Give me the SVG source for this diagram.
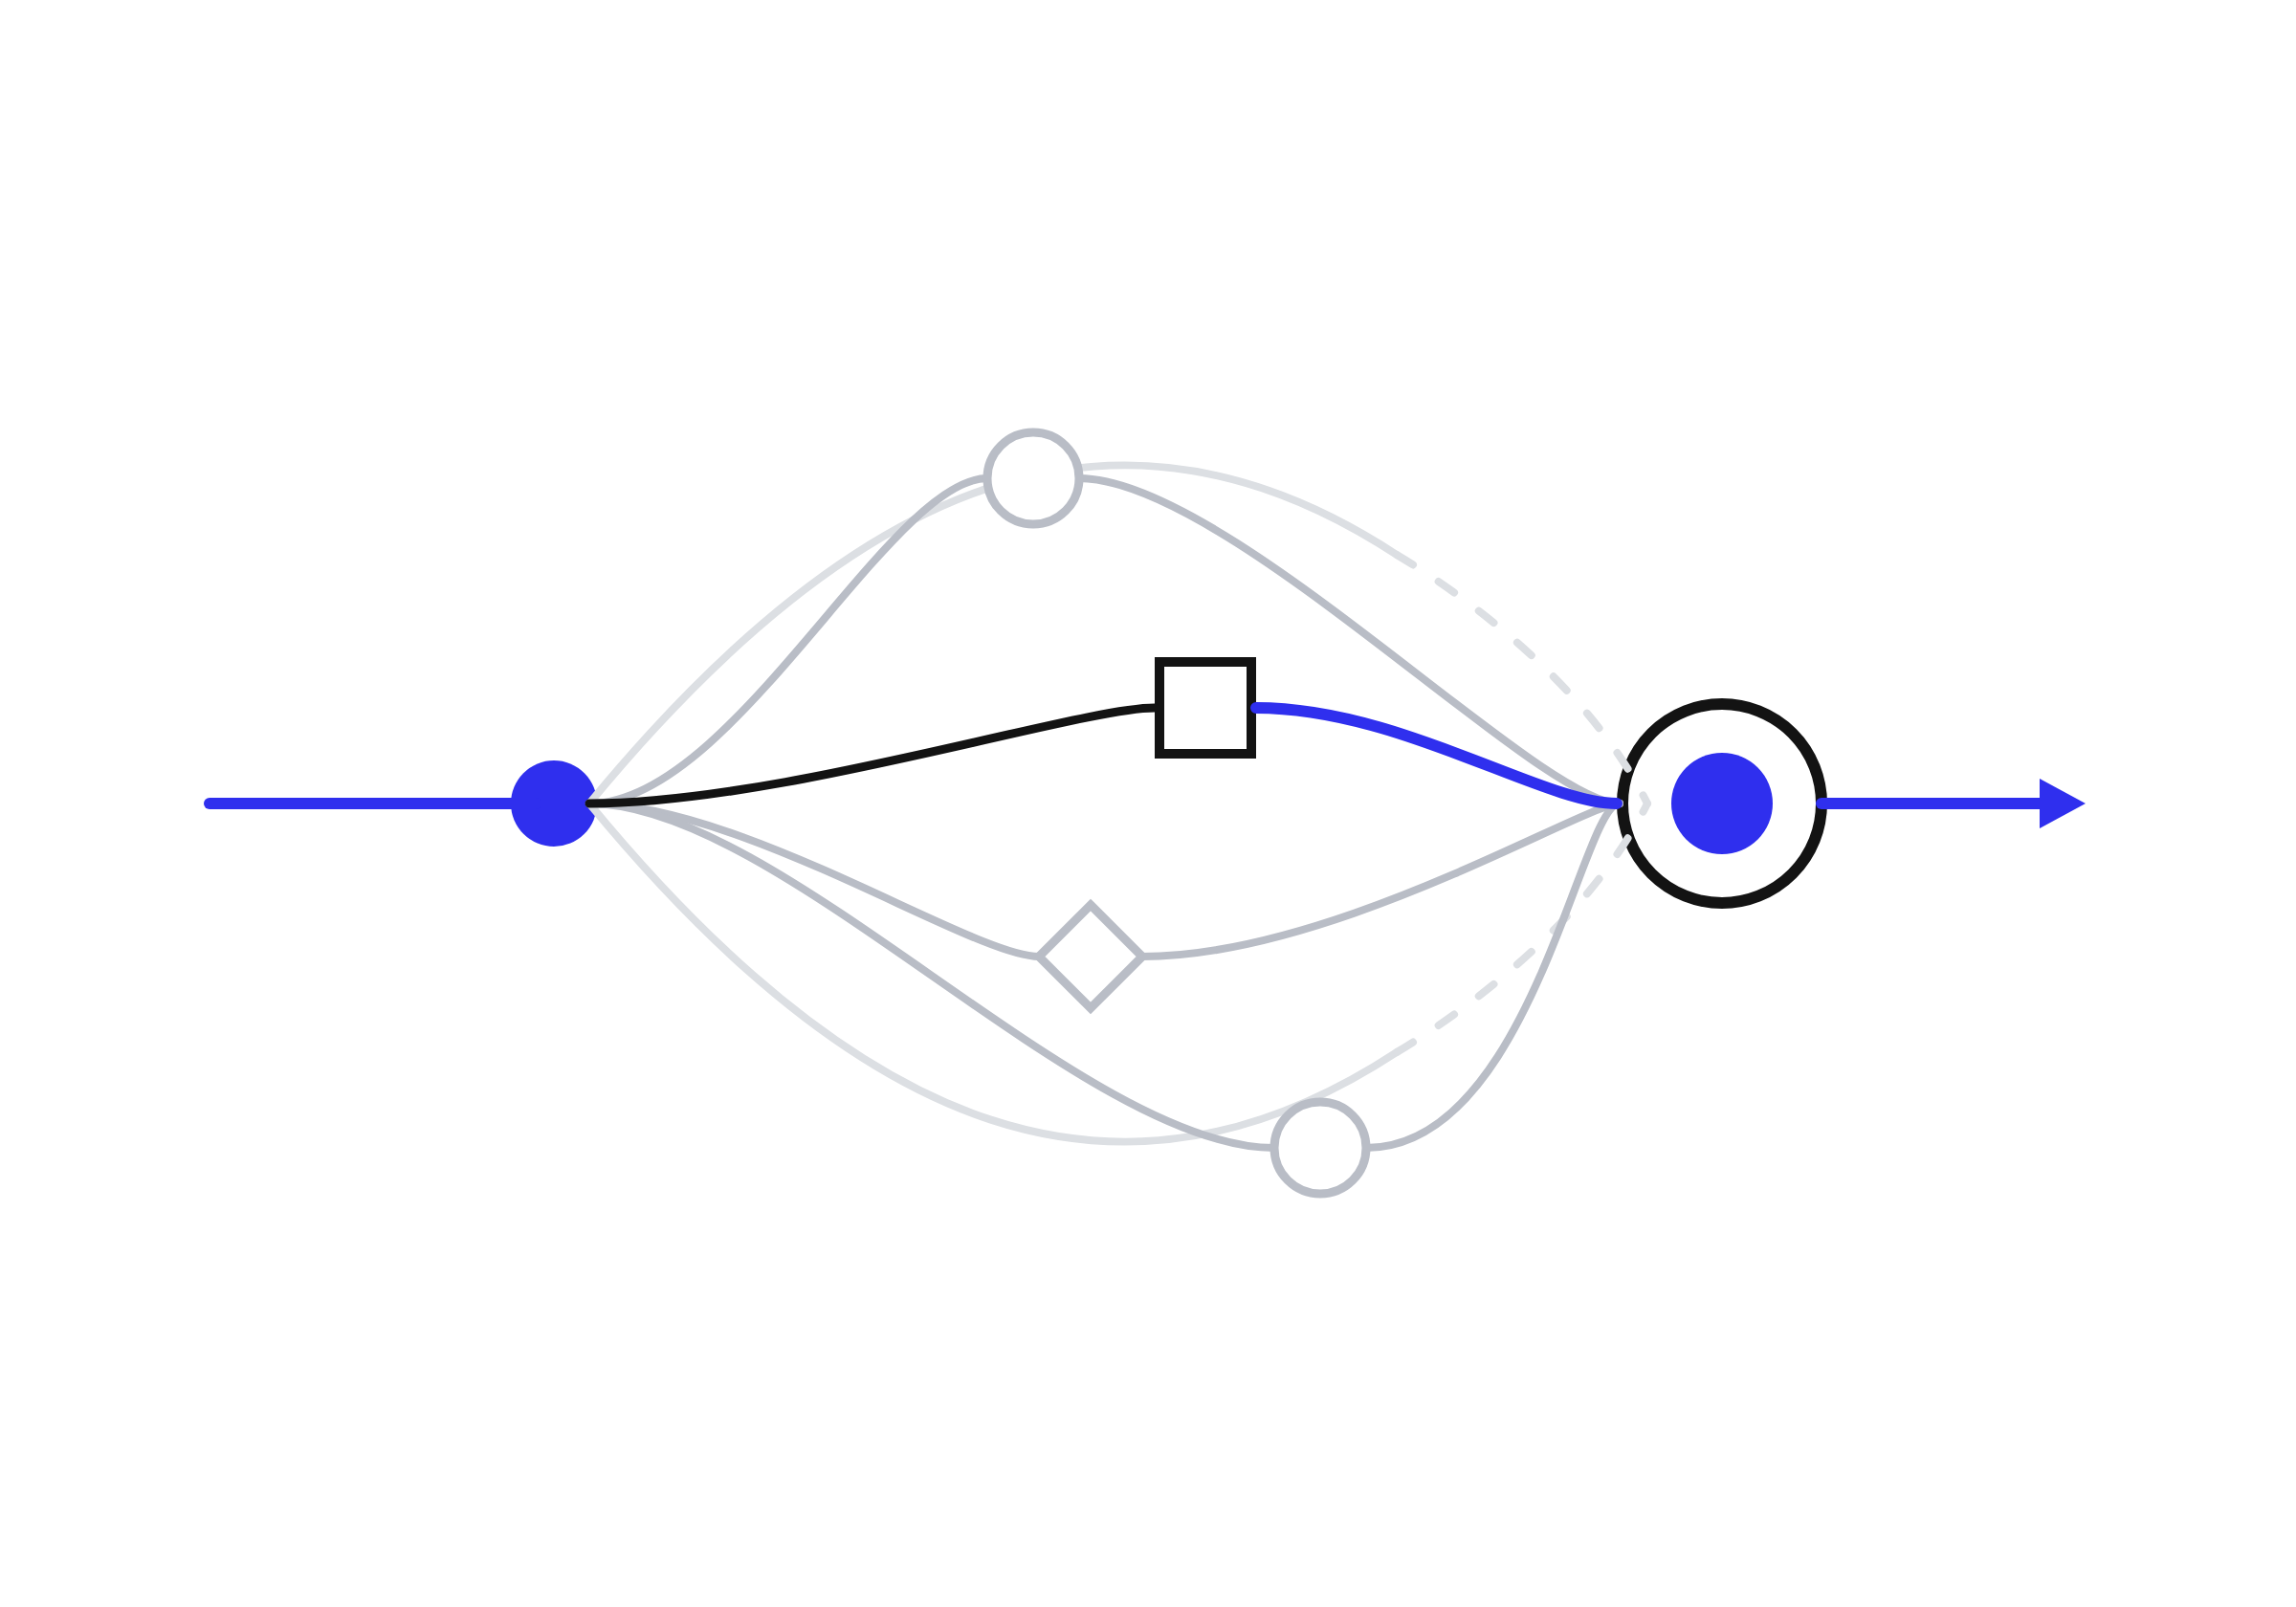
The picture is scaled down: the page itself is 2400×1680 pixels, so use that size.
<svg xmlns="http://www.w3.org/2000/svg" width="2400" height="1680" viewBox="0 0 2400 1680">
<style>
.c{fill:none;stroke-linecap:round;stroke-linejoin:round}
.gray{stroke:#b9bdc6;stroke-width:8}
.light{stroke:#dcdfe3;stroke-width:8}
.dash{stroke:#dcdfe3;stroke-width:8;stroke-dasharray:20 32}
.black{stroke:#131313;stroke-width:9}
.blue{stroke:#2f2fee;stroke-width:12}
.gnode{fill:#ffffff;stroke:#b9bdc6;stroke-width:9}
</style>
<defs>
<marker id="arrow" markerUnits="userSpaceOnUse" markerWidth="48" markerHeight="52" refX="0" refY="26" orient="auto">
<path d="M0,0 L48,26 L0,52 Z" fill="#2f2fee"/>
</marker>
</defs>
<rect x="0" y="0" width="2400" height="1680" fill="#ffffff"/>
<g id="node-start">
<circle cx="579" cy="840" r="45" fill="#2f2fee"/>
</g>
<g id="node-end">
<circle cx="1800" cy="840" r="104" fill="#ffffff" stroke="#131313" stroke-width="12"/>
<circle cx="1800" cy="840" r="53" fill="#2f2fee"/>
</g>
<g id="node-task">
<rect x="1212" y="692" width="96" height="96" fill="#ffffff" stroke="#131313" stroke-width="10"/>
</g>
<g id="node-gateway">
<path d="M1140,946 L1194,1000 L1140,1054 L1086,1000 Z" class="gnode"/>
</g>
<g id="connectors">
<path class="c blue" d="M219,840 L560,840"/>
<path class="c light" d="M616,840 C900,495 1170,390 1460,580"/>
<path class="c dash" d="M1460,580 C1540,628 1662,720 1722,840"/>
<path class="c light" d="M616,840 C900,1185 1170,1290 1460,1100"/>
<path class="c dash" d="M1460,1100 C1540,1052 1662,960 1722,840"/>
<path class="c gray" d="M616,840 C766,840 930,500 1032,500"/>
<path class="c gray" d="M1128,500 C1282,500 1608,840 1693,840"/>
<path class="c gray" d="M616,840 C776,840 1017,1000 1086,1000"/>
<path class="c gray" d="M1194,1000 C1394,1000 1657,840 1693,840"/>
<path class="c gray" d="M616,840 C816,840 1132,1200 1332,1200"/>
<path class="c gray" d="M1428,1200 C1600,1200 1653,840 1693,840"/>
<path class="c black" d="M616,840 C816,840 1127,740 1207,740"/>
<path class="c blue" d="M1313,740 C1463,740 1613,840 1690,840"/>
<path class="c blue" d="M1904,840 L2132,840" marker-end="url(#arrow)"/>
</g>
<g id="node-top">
<circle cx="1080" cy="500" r="48" class="gnode"/>
</g>
<g id="node-bottom">
<circle cx="1380" cy="1200" r="48" class="gnode"/>
</g>
</svg>
